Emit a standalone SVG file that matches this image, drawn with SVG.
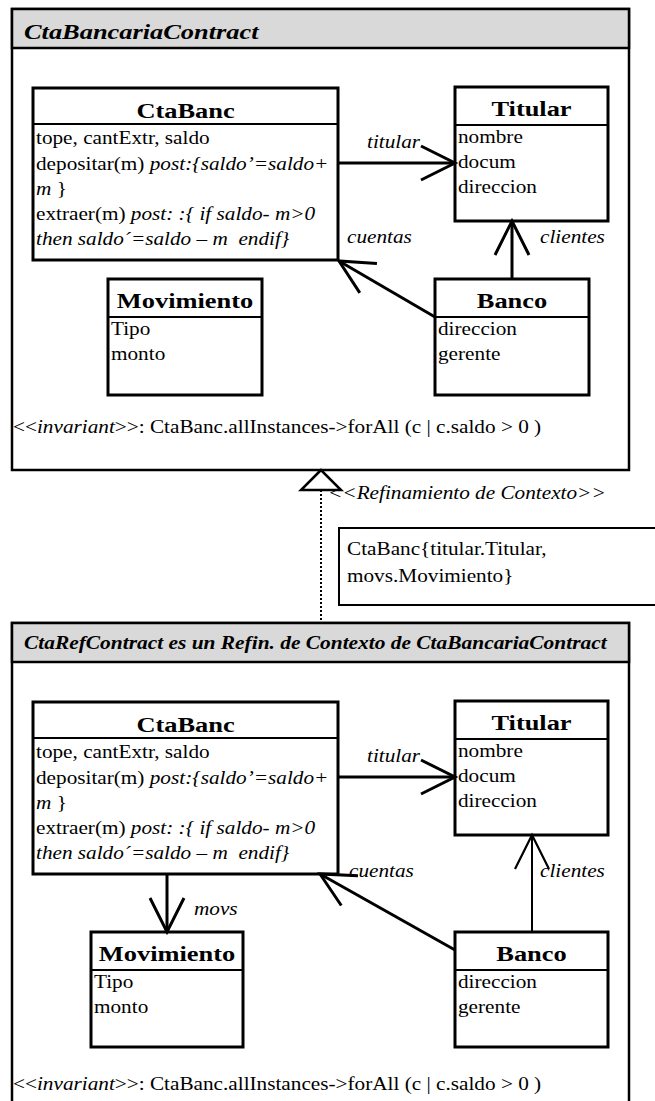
<svg xmlns="http://www.w3.org/2000/svg" width="655" height="1101" viewBox="0 0 655 1101">
<style>
.t{font-family:"Liberation Serif","Times New Roman",serif;fill:#000}
.b{font-size:18px}
.ttl{font-size:22px;font-weight:bold;text-anchor:middle}
.it{font-style:italic}
.ft{font-weight:bold;font-style:italic}
.box{fill:#fff;stroke:#000;stroke-width:3}
.div{stroke:#000;stroke-width:2}
.frame{fill:#fff;stroke:#000;stroke-width:2.5}
.hdr{fill:#d9d9d9;stroke:#000;stroke-width:2.5}
.con{stroke:#000;stroke-width:3;fill:none;marker-end:url(#open)}
.thin{stroke-width:2;marker-end:url(#open-thin)}
</style>
<defs>
<marker id="open" markerUnits="userSpaceOnUse" viewBox="-40 -20 42 40" refX="0" refY="0" markerWidth="42" markerHeight="40" orient="auto" overflow="visible">
<path d="M-34,-17 L0,0 L-34,17" fill="none" stroke="#000" stroke-width="3"/>
</marker>
<marker id="open-thin" markerUnits="userSpaceOnUse" viewBox="-40 -20 42 40" refX="0" refY="0" markerWidth="42" markerHeight="40" orient="auto" overflow="visible">
<path d="M-34,-17 L0,0 L-34,17" fill="none" stroke="#000" stroke-width="2.2"/>
</marker>
</defs>
<rect width="655" height="1101" fill="#fff"/>

<g id="frame-top">
<rect class="frame" x="12" y="9" width="617" height="461"/>
<rect class="hdr" x="12" y="9" width="617" height="39"/>
<text class="t ft" font-size="22" transform="translate(24,39) scale(1.2,1)">CtaBancariaContract</text>
<text class="t b" transform="translate(13,433) scale(1.18,1)">&lt;&lt;<tspan class="it">invariant</tspan>&gt;&gt;: CtaBanc.allInstances-&gt;forAll (c | c.saldo &gt; 0 )</text>
</g>

<g id="ctabanc-top">
<rect class="box" x="33" y="88" width="305" height="172"/>
<line class="div" x1="33" y1="124" x2="338" y2="124"/>
<text class="t ttl" transform="translate(185.5,118) scale(1.2,1)">CtaBanc</text>
<text class="t b" transform="translate(36,144) scale(1.18,1)">tope, cantExtr, saldo</text>
<text class="t b" transform="translate(36,170) scale(1.18,1)">depositar(m) <tspan class="it">post:{saldo’=saldo+</tspan></text>
<text class="t b it" transform="translate(36,195) scale(1.18,1)">m <tspan font-style="normal">}</tspan></text>
<text class="t b" transform="translate(36,220) scale(1.18,1)">extraer(m) <tspan class="it">post: :{ if saldo- m&gt;0</tspan></text>
<text class="t b it" transform="translate(36,245) scale(1.18,1)">then saldo´=saldo – m&#160; endif}</text>
</g>

<g id="titular-top">
<rect class="box" x="455" y="87" width="153" height="134"/>
<line class="div" x1="455" y1="125" x2="608" y2="125"/>
<text class="t ttl" transform="translate(531.5,116) scale(1.2,1)">Titular</text>
<text class="t b" transform="translate(458,143) scale(1.18,1)">nombre</text>
<text class="t b" transform="translate(458,168) scale(1.18,1)">docum</text>
<text class="t b" transform="translate(458,193) scale(1.18,1)">direccion</text>
</g>

<g id="movimiento-top">
<rect class="box" x="108" y="279" width="154" height="116"/>
<line class="div" x1="108" y1="317" x2="262" y2="317"/>
<text class="t ttl" transform="translate(185,308) scale(1.2,1)">Movimiento</text>
<text class="t b" transform="translate(111,335) scale(1.18,1)">Tipo</text>
<text class="t b" transform="translate(111,360) scale(1.18,1)">monto</text>
</g>

<g id="banco-top">
<rect class="box" x="435" y="279" width="154" height="116"/>
<line class="div" x1="435" y1="317" x2="589" y2="317"/>
<text class="t ttl" transform="translate(512,308) scale(1.2,1)">Banco</text>
<text class="t b" transform="translate(438,335) scale(1.18,1)">direccion</text>
<text class="t b" transform="translate(438,360) scale(1.18,1)">gerente</text>
</g>

<g id="connectors-top">
<line class="con" x1="338" y1="163" x2="455" y2="163"/>
<line class="con" x1="512" y1="279" x2="512" y2="221"/>
<line class="con" x1="435" y1="317" x2="339" y2="261"/>
<text class="t b it" transform="translate(367,148) scale(1.18,1)">titular</text>
<text class="t b it" transform="translate(347,243) scale(1.18,1)">cuentas</text>
<text class="t b it" transform="translate(540,243) scale(1.18,1)">clientes</text>
</g>

<g id="refinement">
<line x1="321" y1="490" x2="321" y2="623" stroke="#000" stroke-width="2" stroke-dasharray="2 2"/>
<polygon points="321,470 301,490 341,490" fill="#fff" stroke="#000" stroke-width="2.5"/>
<text class="t b it" transform="translate(328,499) scale(1.18,1)">&lt;&lt;Refinamiento de Contexto&gt;&gt;</text>
</g>

<g id="note">
<rect x="339" y="528" width="330" height="77" fill="#fff" stroke="#000" stroke-width="2"/>
<text class="t b" transform="translate(347,555) scale(1.18,1)">CtaBanc{titular.Titular,</text>
<text class="t b" transform="translate(347,582) scale(1.18,1)">movs.Movimiento}</text>
</g>

<g id="frame-bottom">
<rect class="frame" x="12" y="623" width="617" height="500"/>
<rect class="hdr" x="12" y="623" width="617" height="39"/>
<text class="t ft" font-size="18" transform="translate(24,649) scale(1.19,1)">CtaRefContract es un Refin. de Contexto de CtaBancariaContract</text>
<text class="t b" transform="translate(13,1090) scale(1.18,1)">&lt;&lt;<tspan class="it">invariant</tspan>&gt;&gt;: CtaBanc.allInstances-&gt;forAll (c | c.saldo &gt; 0 )</text>
</g>

<g id="ctabanc-bottom">
<rect class="box" x="33" y="702" width="305" height="172"/>
<line class="div" x1="33" y1="738" x2="338" y2="738"/>
<text class="t ttl" transform="translate(185.5,732) scale(1.2,1)">CtaBanc</text>
<text class="t b" transform="translate(36,758) scale(1.18,1)">tope, cantExtr, saldo</text>
<text class="t b" transform="translate(36,784) scale(1.18,1)">depositar(m) <tspan class="it">post:{saldo’=saldo+</tspan></text>
<text class="t b it" transform="translate(36,809) scale(1.18,1)">m <tspan font-style="normal">}</tspan></text>
<text class="t b" transform="translate(36,834) scale(1.18,1)">extraer(m) <tspan class="it">post: :{ if saldo- m&gt;0</tspan></text>
<text class="t b it" transform="translate(36,859) scale(1.18,1)">then saldo´=saldo – m&#160; endif}</text>
</g>

<g id="titular-bottom">
<rect class="box" x="455" y="701" width="153" height="134"/>
<line class="div" x1="455" y1="739" x2="608" y2="739"/>
<text class="t ttl" transform="translate(531.5,730) scale(1.2,1)">Titular</text>
<text class="t b" transform="translate(458,757) scale(1.18,1)">nombre</text>
<text class="t b" transform="translate(458,782) scale(1.18,1)">docum</text>
<text class="t b" transform="translate(458,807) scale(1.18,1)">direccion</text>
</g>

<g id="movimiento-bottom">
<rect class="box" x="91" y="932" width="152" height="115"/>
<line class="div" x1="91" y1="970" x2="243" y2="970"/>
<text class="t ttl" transform="translate(167,961) scale(1.2,1)">Movimiento</text>
<text class="t b" transform="translate(94,988) scale(1.18,1)">Tipo</text>
<text class="t b" transform="translate(94,1013) scale(1.18,1)">monto</text>
</g>

<g id="banco-bottom">
<rect class="box" x="455" y="932" width="153" height="115"/>
<line class="div" x1="455" y1="970" x2="608" y2="970"/>
<text class="t ttl" transform="translate(531.5,961) scale(1.2,1)">Banco</text>
<text class="t b" transform="translate(458,988) scale(1.18,1)">direccion</text>
<text class="t b" transform="translate(458,1013) scale(1.18,1)">gerente</text>
</g>

<g id="connectors-bottom">
<line class="con" x1="338" y1="777" x2="455" y2="777"/>
<line class="con thin" x1="532" y1="932" x2="532" y2="835"/>
<line class="con" x1="455" y1="950" x2="320" y2="874"/>
<line class="con" x1="167" y1="874" x2="167" y2="932"/>
<text class="t b it" transform="translate(367,762) scale(1.18,1)">titular</text>
<text class="t b it" transform="translate(349,877) scale(1.18,1)">cuentas</text>
<text class="t b it" transform="translate(540,877) scale(1.18,1)">clientes</text>
<text class="t b it" transform="translate(194,915) scale(1.18,1)">movs</text>
</g>
</svg>
